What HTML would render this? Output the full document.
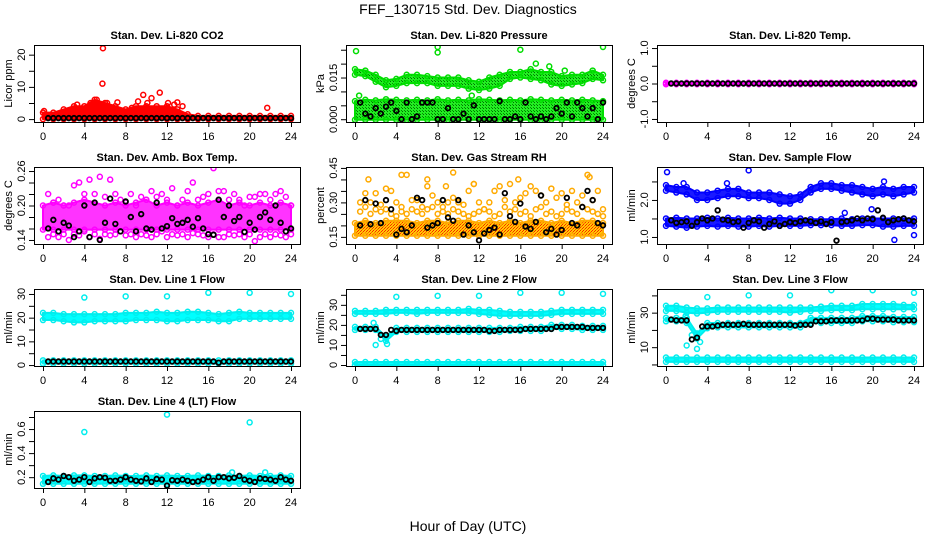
<!DOCTYPE html>
<html><head><meta charset="utf-8"><style>
html,body{margin:0;padding:0;background:#fff;}
svg{display:block;font-family:"Liberation Sans",sans-serif;}
</style></head><body>
<svg id="chart" width="936" height="540" viewBox="0 0 936 540">
<defs>
<pattern id="rhpat" width="3" height="3" patternUnits="userSpaceOnUse"><rect width="3" height="3" fill="#ffcc00"/><rect width="1" height="1" fill="#ff2000"/><rect x="2" y="1" width="1" height="1" fill="#ff6000"/><rect x="1" y="2" width="1" height="1" fill="#ff2000"/></pattern>
<pattern id="grpat" width="3" height="3" patternUnits="userSpaceOnUse"><rect width="3" height="3" fill="#22ee22"/><rect width="1" height="1" fill="#007000"/><rect x="2" y="2" width="1" height="1" fill="#009000"/></pattern>
</defs>
<text x="468" y="14" text-anchor="middle" font-size="14">FEF_130715  Std. Dev. Diagnostics</text>
<text x="468" y="531" text-anchor="middle" font-size="14">Hour of Day (UTC)</text>
</svg>
<script>
// ---- data (hourly bands: 25 values, hours 0..24; half-hour series: 48 values, hours 0.5..24) ----
const xTicks = [0,4,8,12,16,20,24];
const c1Hi = [2,2,3,4,4,6,5,4,3,4,4,4,4,3,1.5,1,1,1,1,1,1,1,1,1,1];
const c1Lo = [0,0,0,0,0,0,0,0,0,0,0,0,0,0,0,0,0,0,0,0,0,0,0,0,0];
const c1OutX = [5.8,5.75,9.7,11.3,21.7,10.5,7.2,13,4.6,9.2,12.1,0.1,3.3,5.2,6.2,8.6,10.1,12.7,13.5];
const c1OutY = [22,11,7.5,8.2,3.5,6.5,5.2,5.2,5,5.5,5,2.5,4.5,6,5,3.5,5,4.5,4];
const c1Black = Array(48).fill(0.3);

const p2UpHi = [0.018,0.0175,0.016,0.014,0.0145,0.016,0.016,0.0155,0.015,0.015,0.015,0.014,0.0135,0.015,0.016,0.017,0.017,0.018,0.017,0.017,0.0155,0.016,0.016,0.0175,0.016];
const p2UpLo = [0.016,0.0155,0.0135,0.0115,0.012,0.013,0.013,0.013,0.012,0.012,0.012,0.011,0.0105,0.011,0.012,0.0145,0.015,0.0145,0.014,0.0125,0.012,0.0125,0.013,0.0145,0.014];
const p2LoHi = [0.0065,0.007,0.0068,0.0072,0.007,0.0068,0.007,0.0068,0.0072,0.0068,0.007,0.0068,0.0072,0.007,0.0068,0.007,0.0068,0.0072,0.007,0.0068,0.007,0.0068,0.007,0.0068,0.0065];
const p2LoLo = Array(25).fill(-0.0002);
const p2OutX = [0.1,8,8,16,24,17.5,18.8,20.3,0.4,11.3];
const p2OutY = [0.0245,0.026,0.024,0.025,0.026,0.020,0.019,0.0175,0.0085,0.0085];
const p2Black = [0.006,0.002,0.001,0.004,0.002,0.0045,0.006,0.003,0.000,0.006,0.000,0.001,0.006,0.006,0.006,0.000,0.000,0.004,0.000,0.000,0.002,0.000,0.005,0.000,0.000,0.000,0.000,0.0065,0.000,0.000,0.001,0.000,0.006,0.001,0.000,0.001,0.000,0.001,0.004,0.002,0.006,0.001,0.006,0.004,0.001,0.004,0.000,0.006];

const p3Hi = Array(25).fill(0.02);
const p3Lo = Array(25).fill(-0.02);
const p3Black = Array(48).fill(0);

const p4Hi = [0.2,0.205,0.2,0.205,0.21,0.205,0.2,0.205,0.2,0.205,0.21,0.2,0.205,0.2,0.205,0.2,0.205,0.21,0.2,0.205,0.2,0.205,0.2,0.205,0.2];
const p4Lo = Array(25).fill(0.158);
const p4High = [0.22,0.205,0.21,0.2,0.2,0.235,0.24,0.22,0.245,0.22,0.25,0.215,0.245,0.22,0.21,0.205,0.22,0.2,0.215,0.21,0.225,0.215,0.22,0.21,0.23,0.2,0.21,0.225,0.24,0.21,0.215,0.22,0.265,0.225,0.225,0.21,0.22,0.21,0.2,0.215,0.215,0.22,0.22,0.21,0.22,0.225,0.215,0.2];
const p4Low = [0.145,0.15,0.145,0.15,0.14,0.15,0.148,0.155,0.145,0.15,0.142,0.15,0.148,0.15,0.155,0.148,0.15,0.145,0.15,0.148,0.145,0.15,0.155,0.145,0.15,0.148,0.15,0.145,0.152,0.15,0.148,0.145,0.15,0.145,0.145,0.15,0.148,0.15,0.145,0.15,0.138,0.145,0.15,0.145,0.15,0.148,0.145,0.15];
const p4Black = [0.16,0.175,0.155,0.17,0.165,0.145,0.155,0.20,0.145,0.205,0.14,0.17,0.212,0.168,0.155,0.207,0.18,0.155,0.185,0.16,0.158,0.205,0.16,0.164,0.178,0.168,0.17,0.175,0.163,0.178,0.16,0.15,0.149,0.21,0.18,0.2,0.173,0.18,0.154,0.17,0.158,0.18,0.188,0.175,0.2,0.17,0.155,0.16];

const p5Hi = [0.21,0.22,0.21,0.22,0.22,0.22,0.21,0.22,0.22,0.21,0.22,0.22,0.21,0.22,0.21,0.22,0.21,0.22,0.22,0.21,0.22,0.21,0.22,0.22,0.21];
const p5Lo = Array(25).fill(0.155);
const p5High = [0.3,0.34,0.3,0.34,0.29,0.36,0.35,0.3,0.26,0.42,0.31,0.31,0.28,0.37,0.33,0.3,0.28,0.3,0.32,0.3,0.29,0.35,0.38,0.3,0.27,0.3,0.35,0.37,0.31,0.38,0.3,0.32,0.34,0.37,0.35,0.33,0.3,0.36,0.32,0.34,0.29,0.35,0.3,0.33,0.42,0.31,0.35,0.27];
const p5Mid = [0.26,0.28,0.25,0.27,0.26,0.27,0.25,0.24,0.28,0.25,0.27,0.26,0.25,0.27,0.28,0.25,0.26,0.25,0.27,0.26,0.25,0.24,0.25,0.26,0.27,0.26,0.24,0.25,0.28,0.26,0.27,0.25,0.26,0.24,0.27,0.28,0.25,0.26,0.24,0.25,0.27,0.26,0.25,0.28,0.27,0.26,0.25,0.24];
const p5OutX = [1.3,4.5,7,9.5,11.5,15.8,22.7,8.8];
const p5OutY = [0.4,0.42,0.4,0.43,0.38,0.4,0.41,0.37];
const p5Black = [0.2,0.31,0.205,0.295,0.21,0.31,0.27,0.16,0.185,0.17,0.2,0.32,0.31,0.19,0.2,0.21,0.31,0.235,0.22,0.31,0.16,0.2,0.17,0.135,0.165,0.18,0.19,0.16,0.34,0.24,0.215,0.295,0.195,0.185,0.215,0.33,0.17,0.185,0.16,0.18,0.32,0.21,0.2,0.28,0.35,0.31,0.21,0.2];

const p6UpHi = [2.4,2.35,2.35,2.2,2.2,2.25,2.3,2.3,2.2,2.2,2.2,2.15,2.1,2.15,2.35,2.45,2.45,2.4,2.4,2.35,2.3,2.35,2.3,2.35,2.35];
const p6UpLo = [2.25,2.2,2.15,2.0,2.0,2.05,2.1,2.1,2.05,2.05,2.0,1.9,1.9,2.0,2.2,2.3,2.3,2.25,2.2,2.15,2.1,2.15,2.1,2.15,2.2];
const p6LoHi = [1.5,1.52,1.5,1.5,1.52,1.5,1.52,1.5,1.5,1.52,1.5,1.52,1.5,1.5,1.48,1.48,1.48,1.5,1.48,1.5,1.5,1.5,1.5,1.5,1.5];
const p6LoLo = [1.3,1.28,1.25,1.28,1.3,1.28,1.3,1.28,1.28,1.3,1.28,1.3,1.3,1.3,1.32,1.32,1.32,1.3,1.3,1.32,1.32,1.28,1.28,1.3,1.3];
const p6OutX = [0.1,8,5.9,21.1,22.1,24,19.9,17.3,1.7];
const p6OutY = [2.75,2.8,2.45,2.5,0.92,1.05,1.75,1.65,2.45];
const p6Black = [1.45,1.38,1.4,1.42,1.3,1.4,1.5,1.45,1.5,1.72,1.47,1.45,1.4,1.42,1.25,1.38,1.45,1.42,1.25,1.35,1.42,1.3,1.35,1.4,1.38,1.42,1.45,1.42,1.38,1.42,1.35,1.4,0.9,1.4,1.42,1.45,1.5,1.45,1.5,1.48,1.72,1.52,1.4,1.45,1.48,1.5,1.45,1.42];

const p7UpHi = [22,22,21.5,21.5,21.5,21.5,21.5,21.5,22,22,22,22.5,22,22,22.5,22.5,22,21.5,22,22.5,22,22,22,22,22];
const p7UpLo = [19,19,18.5,18,18,18.5,18.5,18.5,18.5,19,19,19,18.5,18.5,19,19,19,18.5,18.5,19.5,19.5,19.5,19.5,19.5,19.5];
const p7LoHi = Array(25).fill(2);
const p7LoLo = Array(25).fill(0.6);
const p7OutX = [4,8,12,16,20,24];
const p7OutY = [28.5,29,29,30.5,30.5,30];
const p7Black = [1.5,1.5,1.5,1.5,1.5,1.5,1.5,1.5,1.5,1.5,1.5,1.5,1.5,1.5,1.5,1.5,1.5,1.5,1.5,1.5,1.5,1.5,1.5,1.5,1.5,1.5,1.5,1.5,1.5,1.5,1.5,1.5,1.5,1,1.5,1.5,1.5,1.5,1.5,1.5,1.5,1.5,1.5,1.5,1.5,1.5,1.5,1.5];

const p8UpHi = [27,27,27,27.5,27.5,27.5,27.5,27.5,27.5,27.5,27.5,28,27.5,27.5,27,26.5,26.5,26.5,26.5,27,27.5,27.5,27.5,27.5,27.5];
const p8UpLo = [25.5,25.5,25.5,25.5,26,26,25.5,26,26,26,26,26,25.5,25,24.5,24.5,24.5,24.5,24.5,25,25.5,25.5,25.5,25.5,25.5];
const p8MidHi = [19,19,19,14,18.5,18.5,18.5,18.5,18.5,18.5,18.5,18.5,18.5,18.5,18.5,18.5,19,19,19,20,20,20,19.5,19.5,19.5];
const p8MidLo = [17.5,17.5,17.5,12,16.5,16.5,16.5,16.5,16.5,16.5,16.5,16.5,16.5,16.5,16.5,17,17,17,17,18,18,18,17.5,17.5,17.5];
const p8LoHi = Array(25).fill(1.5);
const p8LoLo = Array(25).fill(0);
const p8OutX = [4,8,12,16,20,24,2,3.1,1.8,2.5];
const p8OutY = [34,34.5,34.5,36,36,35.5,10,10.5,21,13];
const p8Black = [18,18,18,18,15,15,17.5,17,17.5,17.5,17.5,17.5,17.5,17.5,17.5,17.5,17.5,17.5,17.5,17.5,17.5,17.5,17.5,17.5,17.5,17,17,17.5,17.5,17.5,17.5,17.5,18,18,18,18,18,18,19,19,19,19,19,19,18.5,18.5,18.5,18.5];

const p9UpHi = [34,34,33,32.5,32.5,33,33,33,33,33,33,33,33,33,33,33.5,34,34,34,35,35,35,35,34.5,34.5];
const p9UpLo = [31,31,30,29.5,30,30.5,30.5,30.5,30.5,30.5,30.5,30.5,30,30.5,31,31,31.5,31.5,31.5,32,32,32,32,32,32];
const p9MidHi = [27,27,27,18,24,24,24,24,24,24,24,24,24,24,27,27,27,27,27,28,28,28,27.5,27.5,27.5];
const p9MidLo = [25,25,24,15,21,21.5,21.5,21.5,21.5,21.5,21.5,21.5,21.5,21.5,24,24,24,24,24,25,25,25,24.5,24.5,24.5];
const p9LoHi = Array(25).fill(4);
const p9LoLo = Array(25).fill(1.5);
const p9OutX = [4,8,12,16,20,24,2,3,2.5,3.3,1.9];
const p9OutY = [39,40,40,43,43,41.5,11,9,17,13,28];
const p9Black = [26,25.5,25.5,25.5,14.5,15.5,22,22,22,22.5,23,23,23,23,23.5,23,23,23,23,23,23,23,23,23,22.5,23,23,23,25,25,25,25.5,25.5,25.5,25.5,25.5,25.5,25.5,26.5,26.5,26,26,26,26,25.5,25.5,25.5,25.5];

const p10Hi = [0.21,0.215,0.21,0.215,0.215,0.21,0.21,0.215,0.21,0.21,0.215,0.21,0.215,0.21,0.21,0.215,0.21,0.21,0.215,0.21,0.215,0.21,0.21,0.215,0.21];
const p10Lo = Array(25).fill(0.145);
const p10OutX = [4,12,20,18.3,21.5];
const p10OutY = [0.575,0.72,0.655,0.24,0.24];
const p10Black = [0.16,0.19,0.18,0.21,0.2,0.17,0.18,0.2,0.16,0.19,0.2,0.195,0.17,0.17,0.18,0.2,0.18,0.17,0.165,0.19,0.16,0.185,0.18,0.13,0.175,0.17,0.18,0.17,0.16,0.165,0.18,0.2,0.17,0.2,0.2,0.19,0.195,0.21,0.18,0.17,0.16,0.19,0.185,0.18,0.17,0.2,0.18,0.17];

const panels = [
 {id:'co2',col:0,row:0,title:'Stan. Dev. Li-820 CO2',ylab:'Licor ppm',ymin:-0.9,ymax:23,ticks:[0,5,10,15,20],labels:['0','','10','','20'],color:'#ff0000',fill:'#ff0000',bands:[[c1Lo,c1Hi]],scat:[],outX:c1OutX,outY:c1OutY,black:c1Black},
 {id:'pressure',col:1,row:0,title:'Stan. Dev. Li-820 Pressure',ylab:'kPa',ymin:-0.001,ymax:0.0267,ticks:[0,0.005,0.01,0.015,0.02,0.025],labels:['0.000','','','0.015','',''],color:'#00dd00',fill:'url(#grpat)',bands:[[p2UpLo,p2UpHi],[p2LoLo,p2LoHi]],scat:[],outX:p2OutX,outY:p2OutY,black:p2Black},
 {id:'temp',col:2,row:0,title:'Stan. Dev. Li-820 Temp.',ylab:'degrees C',ymin:-1.086,ymax:1.086,ticks:[-1,-0.5,0,0.5,1],labels:['-1.0','','0.0','','1.0'],color:'#ff00ff',fill:'#ff00ff',bands:[[p3Lo,p3Hi]],scat:[],outX:[],outY:[],black:p3Black},
 {id:'ambbox',col:0,row:1,title:'Stan. Dev. Amb. Box Temp.',ylab:'degrees C',ymin:0.133,ymax:0.267,ticks:[0.14,0.16,0.18,0.2,0.22,0.24,0.26],labels:['0.14','','','0.20','','','0.26'],color:'#ff00ff',fill:'#ff33ff',bands:[[p4Lo,p4Hi]],scat:[p4High,p4Low],outX:[],outY:[],black:p4Black},
 {id:'rh',col:1,row:1,title:'Stan. Dev. Gas Stream RH',ylab:'percent',ymin:0.119,ymax:0.454,ticks:[0.15,0.2,0.25,0.3,0.35,0.4,0.45],labels:['0.15','','','0.30','','','0.45'],color:'#ffaa00',fill:'url(#rhpat)',bands:[[p5Lo,p5Hi]],scat:[p5High,p5Mid],outX:p5OutX,outY:p5OutY,black:p5Black},
 {id:'sampleflow',col:2,row:1,title:'Stan. Dev. Sample Flow',ylab:'ml/min',ymin:0.81,ymax:2.89,ticks:[1,1.5,2,2.5],labels:['1.0','','2.0',''],color:'#0000ff',fill:'#1a1aff',bands:[[p6UpLo,p6UpHi],[p6LoLo,p6LoHi]],scat:[],outX:p6OutX,outY:p6OutY,black:p6Black},
 {id:'line1',col:0,row:2,title:'Stan. Dev. Line 1 Flow',ylab:'ml/min',ymin:-0.4,ymax:32.1,ticks:[0,5,10,15,20,25,30],labels:['0','','10','','20','','30'],color:'#00eeee',fill:'#00ffff',bands:[[p7UpLo,p7UpHi],[p7LoLo,p7LoHi]],scat:[],outX:p7OutX,outY:p7OutY,black:p7Black},
 {id:'line2',col:1,row:2,title:'Stan. Dev. Line 2 Flow',ylab:'ml/min',ymin:-0.5,ymax:37.9,ticks:[0,5,10,15,20,25,30,35],labels:['0','','10','','20','','30',''],color:'#00eeee',fill:'#00ffff',bands:[[p8UpLo,p8UpHi],[p8MidLo,p8MidHi],[p8LoLo,p8LoHi]],scat:[],outX:p8OutX,outY:p8OutY,black:p8Black},
 {id:'line3',col:2,row:2,title:'Stan. Dev. Line 3 Flow',ylab:'ml/min',ymin:-0.9,ymax:43.7,ticks:[0,10,20,30,40],labels:['','10','','30',''],color:'#00eeee',fill:'#00ffff',bands:[[p9UpLo,p9UpHi],[p9MidLo,p9MidHi],[p9LoLo,p9LoHi]],scat:[],outX:p9OutX,outY:p9OutY,black:p9Black},
 {id:'line4',col:0,row:3,title:'Stan. Dev. Line 4 (LT) Flow',ylab:'ml/min',ymin:0.11,ymax:0.75,ticks:[0.2,0.3,0.4,0.5,0.6,0.7],labels:['0.2','','0.4','','0.6',''],color:'#00eeee',fill:'#00ffff',bands:[[p10Lo,p10Hi]],scat:[],outX:p10OutX,outY:p10OutY,black:p10Black}
];

const NS='http://www.w3.org/2000/svg';
const svg=document.getElementById('chart');
const colL=[34,346,657], rowT=[45,167,289,411], W=266, H=77;
function mk(tag,attrs,parent){const e=document.createElementNS(NS,tag);for(const k in attrs)e.setAttribute(k,attrs[k]);(parent||svg).appendChild(e);return e;}

panels.forEach(p=>{
  const L=colL[p.col], T=rowT[p.row];
  const g=mk('g',{});
  
  
  const xs=h=>L+9+h*(248/24);
  const ys=v=>T+H-(v-p.ymin)/(p.ymax-p.ymin)*H;
  const clip=mk('clipPath',{id:'clip-'+p.id},g);
  mk('rect',{x:L,y:T,width:W,height:H},clip);
  const plot=mk('g',{'clip-path':'url(#clip-'+p.id+')'},g);
  
  
  // bands
  p.bands.forEach((b,bi)=>{
    const lo=b[0], hi=b[1];
    let pts=[];
    hi.forEach((v,i)=>pts.push(xs(i)+','+ys(v)));
    for(let i=lo.length-1;i>=0;i--)pts.push(xs(i)+','+ys(lo[i]));
    const poly=mk('polygon',{points:pts.join(' '),fill:p.fill,stroke:p.color,'stroke-width':2,'stroke-linejoin':'round'},plot);
    
    
    [lo,hi].forEach(arr=>arr.forEach((v,i)=>{
      const c=mk('circle',{cx:xs(i),cy:ys(v),r:2.5,fill:'none',stroke:p.color,'stroke-width':1.5},plot);
      
      
    }));
  });
  // scatter series (half-hour)
  p.scat.forEach((s,si)=>{
    s.forEach((v,i)=>{
      const c=mk('circle',{cx:xs((i+1)*0.5),cy:ys(v),r:2.5,fill:'none',stroke:p.color,'stroke-width':1.5},plot);
      
      
    });
  });
  // outliers
  p.outX.forEach((h,i)=>{
    const c=mk('circle',{cx:xs(h),cy:ys(p.outY[i]),r:2.5,fill:'none',stroke:p.color,'stroke-width':1.5},plot);
    
    
  });
  // black points
  p.black.forEach((v,i)=>{
    const c=mk('circle',{cx:xs((i+1)*0.5),cy:ys(v),r:2.3,fill:'none',stroke:'#000','stroke-width':1.8},plot);
    
    
  });
  // box
  const box=mk('rect',{x:L+0.5,y:T+0.5,width:W,height:H,fill:'none',stroke:'#000','stroke-width':1},g);
  
  
  // x axis
  const xa=mk('g',{},g);
  
  
  mk('line',{x1:xs(0),x2:xs(24),y1:T+H+0.5,y2:T+H+0.5,stroke:'#000'},xa);
  xTicks.forEach(t=>{
    mk('line',{x1:xs(t)+0.5,x2:xs(t)+0.5,y1:T+H,y2:T+H+5,stroke:'#000'},xa);
    const tx=mk('text',{x:xs(t),y:T+H+18,'text-anchor':'middle','font-size':11},xa);
    tx.textContent=t;
    
    
  });
  // y axis
  const ya=mk('g',{},g);
  
  
  mk('line',{x1:L+0.5,x2:L+0.5,y1:ys(p.ticks[0]),y2:ys(p.ticks[p.ticks.length-1]),stroke:'#000'},ya);
  p.ticks.forEach((t,i)=>{
    mk('line',{x1:L-5,x2:L,y1:ys(t)+0.5,y2:ys(t)+0.5,stroke:'#000'},ya);
    if(p.labels[i]){
      const X=L-9, Y=ys(t);
      const tx=mk('text',{x:X,y:Y,'text-anchor':'middle','font-size':11,transform:'rotate(-90 '+X+' '+Y+')'},ya);
      tx.textContent=p.labels[i];
      
      
    }
  });
  const yx=L-22, yy=T+H/2;
  const yl=mk('text',{x:yx,y:yy,'text-anchor':'middle','font-size':11,transform:'rotate(-90 '+yx+' '+yy+')'},g);
  yl.textContent=p.ylab;
  
  
  const tt=mk('text',{x:L+W/2,y:T-6,'text-anchor':'middle','font-size':11,'font-weight':'bold'},g);
  tt.textContent=p.title;
  
  
});
</script>
</body></html>
